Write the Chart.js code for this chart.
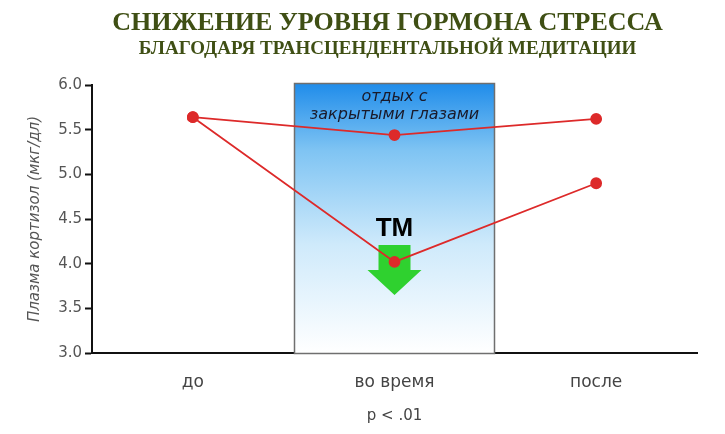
<!DOCTYPE html>
<html>
<head>
<meta charset="utf-8">
<script src="https://cdn.jsdelivr.net/npm/chart.js@4"></script>
<style>
  html, body { margin: 0; padding: 0; background: #fff; }
  #wrap { width: 725px; height: 434px; }
</style>
</head>
<body>
<div id="wrap"><canvas id="chartCortisol"></canvas></div>
<script>
const categories = ['до', 'во время', 'после'];
const restValues = [5.64, 5.44, 5.62];   // отдых с закрытыми глазами
const tmValues = [5.64, 4.02, 4.90];     // ТМ
const yTicks = [3.0, 3.5, 4.0, 4.5, 5.0, 5.5, 6.0];

const titleLines = ['СНИЖЕНИЕ УРОВНЯ ГОРМОНА СТРЕССА', 'БЛАГОДАРЯ ТРАНСЦЕНДЕНТАЛЬНОЙ МЕДИТАЦИИ'];
const restLabel = ['отдых с', 'закрытыми глазами'];
const tmLabel = 'TM';

const red = '#dd2a2a';

// shaded "during" band, green arrow and header text
const decor = {
  id: 'decor',
  beforeDatasetsDraw(chart) {
    const { ctx, chartArea, scales: { x, y } } = chart;
    const cx = x.getPixelForValue(1);
    const half = (x.getPixelForValue(1) - x.getPixelForValue(0)) / 2;
    const left = Math.round(cx - half), right = Math.round(cx + half);
    const top = chartArea.top - 2, bottom = chartArea.bottom;
    ctx.save();
    const g = ctx.createLinearGradient(0, top, 0, bottom);
    g.addColorStop(0, '#1f8cea');
    g.addColorStop(0.25, '#7fc4f3');
    g.addColorStop(0.6, '#cfeafb');
    g.addColorStop(1, '#ffffff');
    ctx.fillStyle = g;
    ctx.fillRect(left, top, right - left, bottom - top);
    ctx.strokeStyle = '#6f6f6f';
    ctx.lineWidth = 1.5;
    ctx.strokeRect(left + 0.5, top + 0.5, right - left - 1, bottom - top);

    ctx.fillStyle = '#1a1a2a';
    ctx.font = 'italic 16px "DejaVu Sans"';
    ctx.textAlign = 'center';
    ctx.textBaseline = 'middle';
    ctx.fillText(restLabel[0], cx, top + 14);
    ctx.fillText(restLabel[1], cx, top + 32);

    // TM label and green arrow
    ctx.fillStyle = '#000';
    ctx.font = 'bold 26px "Liberation Sans"';
    ctx.fillText(tmLabel, cx, y.getPixelForValue(4.39));
    const stemTop = y.getPixelForValue(4.21);
    const stemBot = y.getPixelForValue(3.93);
    const tip = y.getPixelForValue(3.65);
    ctx.fillStyle = '#2fd12f';
    ctx.beginPath();
    ctx.moveTo(cx - 16, stemTop);
    ctx.lineTo(cx + 16, stemTop);
    ctx.lineTo(cx + 16, stemBot);
    ctx.lineTo(cx + 27, stemBot);
    ctx.lineTo(cx, tip);
    ctx.lineTo(cx - 27, stemBot);
    ctx.lineTo(cx - 16, stemBot);
    ctx.closePath();
    ctx.fill();
    ctx.restore();
  },
  afterDraw(chart) {
    const { ctx, chartArea } = chart;
    const cx = (chartArea.left + chartArea.right) / 2;
    ctx.save();
    ctx.fillStyle = '#3f4f14';
    ctx.textAlign = 'center';
    ctx.textBaseline = 'middle';
    ctx.font = 'bold 26px "Liberation Serif"';
    ctx.fillText(titleLines[0], cx - 7, 23);
    ctx.font = 'bold 19px "Liberation Serif"';
    ctx.fillText(titleLines[1], cx - 7, 49);
    ctx.restore();
  }
};

const ctx = document.getElementById('chartCortisol');

new Chart(ctx, {
  type: 'line',
  data: {
    labels: categories,
    datasets: [{
      label: 'отдых с закрытыми глазами',
      data: restValues,
      borderColor: red,
      backgroundColor: red,
      borderWidth: 1.8,
      pointRadius: 5,
      pointHoverRadius: 5,
      tension: 0
    }, {
      label: 'ТМ',
      data: tmValues,
      borderColor: red,
      backgroundColor: red,
      borderWidth: 1.8,
      pointRadius: 5,
      pointHoverRadius: 5,
      tension: 0
    }]
  },
  options: {
    responsive: true,
    maintainAspectRatio: false,
    animation: false,
    layout: { padding: { top: 85, right: 28, left: 0, bottom: 0 } },
    plugins: {
      legend: { display: false },
      tooltip: { enabled: false }
    },
    scales: {
      x: {
        offset: true,
        afterFit(scale) { scale.height = 81; },
        grid: { display: false },
        border: { color: '#111', width: 2 },
        ticks: {
          padding: 11,
          color: '#444',
          font: { family: '"DejaVu Sans"', size: 17 }
        },
        title: {
          display: true,
          text: 'p < .01',
          color: '#444',
          font: { family: '"DejaVu Sans"', size: 15 },
          padding: { top: 4, bottom: 9 }
        }
      },
      y: {
        min: 3,
        max: 6,
        afterFit(scale) { scale.width = 92; },
        afterBuildTicks(scale) { scale.ticks = yTicks.map(v => ({ value: v })); },
        grid: {
          drawOnChartArea: false,
          drawTicks: true,
          tickLength: 7,
          tickWidth: 2,
          tickColor: '#111'
        },
        border: { color: '#111', width: 2 },
        ticks: {
          padding: 3,
          color: '#555',
          font: { family: '"DejaVu Sans"', size: 15 },
          callback: v => v.toFixed(1)
        },
        title: {
          display: true,
          text: 'Плазма кортизол (мкг/дл)',
          color: '#555',
          font: { family: '"DejaVu Sans"', size: 15, style: 'italic' },
          padding: { top: 26, bottom: 6 }
        }
      }
    }
  },
  plugins: [decor]
});
</script>
</body>
</html>
